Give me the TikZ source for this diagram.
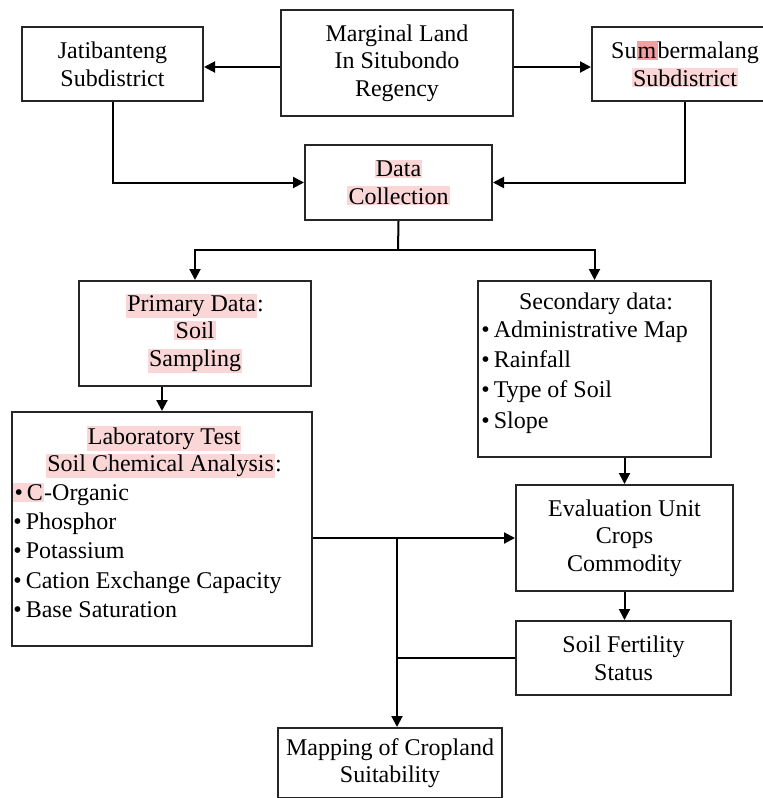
\documentclass[tikz,border=0pt]{standalone}
\usepackage{fontspec}
\setmainfont{Liberation Serif}
\usepackage{tikz}
\usetikzlibrary{arrows.meta, calc}

\definecolor{hlpink}{RGB}{250,214,214}
\definecolor{hldark}{RGB}{240,160,160}
\newcommand{\hl}[1]{{\setlength{\fboxsep}{0.6pt}\colorbox{hlpink}{#1}}}
\newcommand{\hlmark}[1]{{\setlength{\fboxsep}{0.6pt}\colorbox{hldark}{\vphantom{Sb}#1}}}

\tikzset{
    box/.style={draw=black!85, line width=1pt, rectangle, align=center, inner sep=2pt,
        font=\fontsize{12}{13.8}\selectfont},
    txt/.style={inner sep=0pt, font=\fontsize{12}{14.6}\selectfont},
    arr/.style={line width=1pt, -{Triangle[length=5.5pt,width=5.5pt]}},
    line/.style={line width=1pt}
}

\begin{document}
\begin{tikzpicture}[x=0.5pt, y=-0.5pt]

    % Page frame
    \useasboundingbox (0,0) rectangle (763,798);

    % Top row: study area
    \node[box, minimum width=116pt, minimum height=53pt] (marg) at (397,63)
        {Marginal Land\\In Situbondo\\Regency};
    \node[box, minimum width=90.5pt, minimum height=37pt] (jati) at (112.5,64)
        {Jatibanteng\\Subdistrict};
    \node[box, minimum width=93pt, minimum height=37pt] (sumb) at (685,64)
        {Su\hlmark{m}bermalang\\\hl{Subdistrict}};

    % Data collection
    \node[box, minimum width=93.5pt, minimum height=37.5pt] (data) at (398.5,182.5)
        {\hl{Data}\\\hl{Collection}};

    % Primary and secondary data
    \node[box, minimum width=116pt, minimum height=52.5pt] (prim) at (195,333.5)
        {\hl{Primary Data}:\\\hl{Soil}\\\hl{Sampling}};
    \node[box, minimum width=116.5pt, minimum height=88pt] (sec) at (594.5,369) {};
    \node[txt, anchor=north] (sechead) at (596,292) {Secondary data:};
    \node[txt, anchor=north west, align=left] (seclist) at (481,320)
        {\textbullet\,Administrative Map\\[0.6pt]\textbullet\,Rainfall\\[0.6pt]\textbullet\,Type of Soil\\[0.6pt]\textbullet\,Slope};

    % Laboratory test
    \node[box, minimum width=150pt, minimum height=117pt] (lab) at (162,529) {};
    \node[txt, anchor=north, align=center] (labhead) at (164,426)
        {\hl{Laboratory Test}\\[-1pt]\hl{Soil Chemical Analysis}:};
    \node[txt, anchor=north west, align=left] (lablist) at (13,483)
        {\hl{\textbullet\,C}-Organic\\\textbullet\,Phosphor\\\textbullet\,Potassium\\\textbullet\,Cation Exchange Capacity\\\textbullet\,Base Saturation};

    % Evaluation and fertility
    \node[box, minimum width=108.5pt, minimum height=53pt] (eval) at (624.5,538)
        {Evaluation Unit\\Crops\\Commodity};
    \node[box, minimum width=107.5pt, minimum height=37pt] (fert) at (623.5,658)
        {Soil Fertility\\Status};

    % Result
    \node[box, minimum width=112pt, minimum height=35pt] (map) at (390,763)
        {Mapping of Cropland\\Suitability};

    % Connectors
    \coordinate (split) at (398,250);
    \coordinate (join) at (397,538);
    \draw[arr] (marg.west |- 0,67) -- (jati.east |- 0,67);
    \draw[arr] (marg.east |- 0,67) -- (sumb.west |- 0,67);
    \draw[arr] (jati.south) |- (data.west);
    \draw[arr] (sumb.south) |- (data.east);
    \draw[line] (data.south) -- (split);
    \draw[arr] (split) -| (prim.north);
    \draw[arr] (split) -| (sec.north);
    \draw[arr] (lab.north |- prim.south) -- (lab.north);
    \draw[arr] (eval.north |- sec.south) -- (eval.north);
    \draw[arr] (eval.south) -- (fert.north -| eval.south);
    \draw[arr] (eval.west -| lab.east) -- (eval.west);
    \draw[line] (fert.west) -- (fert.west -| join);
    \draw[arr] (join) -- (join |- map.north);

\end{tikzpicture}
\end{document}
